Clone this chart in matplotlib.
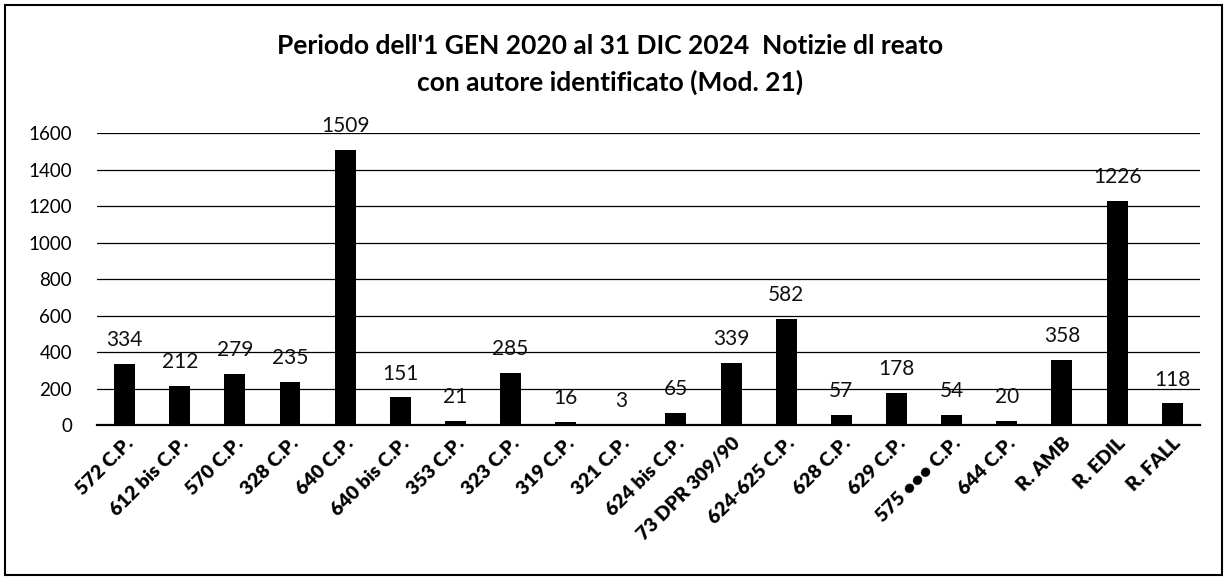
import matplotlib
matplotlib.use("Agg")
import matplotlib.pyplot as plt
from matplotlib.patches import Rectangle
import numpy as np

categories = ["572 C.P.", "612 bis C.P.", "570 C.P.", "328 C.P.", "640 C.P.", "640 bis C.P.",
              "353 C.P.", "323 C.P.", "319 C.P.", "321 C.P.", "624 bis C.P.", "73 DPR 309/90",
              "624-625 C.P.", "628 C.P.", "629 C.P.", "575 \u2022\u2022\u2022 C.P.", "644 C.P.",
              "R. AMB", "R. EDIL", "R. FALL"]
values = [334, 212, 279, 235, 1509, 151, 21, 285, 16, 3, 65, 339, 582, 57, 178, 54, 20, 358, 1226, 118]
yticks = [0, 200, 400, 600, 800, 1000, 1200, 1400, 1600]

plt.rcParams['font.family'] = ['Lato', 'DejaVu Sans']

fig = plt.figure(figsize=(12.28, 5.79), dpi=100)
ax = fig.add_axes([0.079, 0.266, 0.898, 0.504])

x = np.arange(len(categories))
ax.bar(x, values, width=0.38, color='black', zorder=3)
for xi, v in zip(x, values):
    ax.annotate(str(v), (xi, v), xytext=(0, 10), textcoords='offset points',
                ha='center', va='bottom', fontsize=15, color='#111111')

ax.set_ylim(0, 1600)
ax.set_xlim(-0.5, len(categories) - 0.5)
ax.set_yticks(yticks)
ax.set_yticklabels([str(t) for t in yticks], fontsize=13.5)
ax.yaxis.grid(True, color='black', linewidth=0.9)
ax.set_axisbelow(True)
for s in ['top', 'right', 'left']:
    ax.spines[s].set_visible(False)
ax.spines['bottom'].set_linewidth(1.6)
ax.tick_params(axis='both', length=0)
ax.tick_params(axis='y', pad=18)
ax.tick_params(axis='x', pad=7)
ax.set_xticks(x)
ax.set_xticklabels(categories, rotation=45, ha='right', rotation_mode='anchor',
                   fontsize=14, fontweight='heavy')

fig.text(0.497, 0.920, "Periodo dell'1 GEN 2020 al 31 DIC 2024  Notizie dl reato",
         ha='center', va='center', fontsize=19, fontweight='bold')
fig.text(0.497, 0.858, "con autore identificato (Mod. 21)",
         ha='center', va='center', fontsize=19, fontweight='bold')

fig.patches.append(Rectangle((0.004, 0.007), 0.991, 0.985, transform=fig.transFigure,
                             fill=False, edgecolor='black', linewidth=1.5))

fig.savefig("out.png", dpi=100)
